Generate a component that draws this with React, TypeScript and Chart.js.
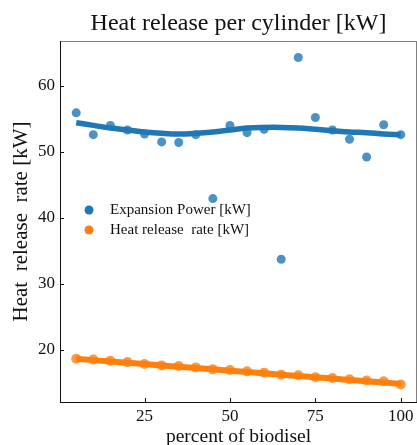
import React, { useEffect, useRef } from "react";
import { Chart, registerables } from "chart.js";

Chart.register(...registerables);

const xValues = [5, 10, 15, 20, 25, 30, 35, 40, 45, 50, 55, 60, 65, 70, 75, 80, 85, 90, 95, 100];
const expansionPower = [55.9, 52.6, 54.0, 53.3, 52.7, 51.5, 51.4, 52.6, 42.9, 54.0, 52.9, 53.4, 33.7, 64.3, 55.2, 53.3, 51.9, 49.2, 54.1, 52.6];
const expansionFit = [54.4, 54.0, 53.6, 53.3, 53.0, 52.8, 52.7, 52.8, 53.0, 53.3, 53.6, 53.7, 53.7, 53.6, 53.4, 53.2, 53.0, 52.9, 52.7, 52.6];
const heatRelease = [18.6, 18.5, 18.3, 18.1, 17.8, 17.6, 17.5, 17.3, 17.0, 16.9, 16.7, 16.5, 16.2, 16.1, 15.8, 15.7, 15.5, 15.3, 15.2, 14.7];
const heatFit = [18.6, 18.4, 18.2, 18.0, 17.8, 17.6, 17.4, 17.2, 17.0, 16.8, 16.6, 16.4, 16.2, 16.0, 15.8, 15.6, 15.4, 15.2, 15.0, 14.8];
const xTicks = [25, 50, 75, 100];
const yTicks = [20, 30, 40, 50, 60];
const seriesLabels = ["Expansion Power [kW]", "Heat release  rate [kW]"];
const titleText = "Heat release per cylinder [kW]";
const xTitle = "percent of biodisel";
const yTitle = "Heat  release  rate [kW]";

const FONT = "'Liberation Serif', 'DejaVu Serif', serif";
const BLUE = "#1f77b4";
const ORANGE = "#ff7f0e";

const framePlugin = {
  id: "frameAndTicks",
  afterDraw(chart: any) {
    const { ctx, chartArea } = chart;
    const { left, right, top, bottom } = chartArea;
    ctx.save();
    ctx.lineWidth = 1;
    ctx.strokeStyle = "#808080";
    ctx.beginPath();
    ctx.moveTo(left, Math.round(top) + 0.5);
    ctx.lineTo(right, Math.round(top) + 0.5);
    ctx.moveTo(right - 0.5, top);
    ctx.lineTo(right - 0.5, bottom);
    ctx.stroke();
    ctx.strokeStyle = "#111";
    ctx.beginPath();
    ctx.moveTo(Math.round(left) + 0.5, top);
    ctx.lineTo(Math.round(left) + 0.5, bottom);
    ctx.moveTo(left, Math.round(bottom) + 0.5);
    ctx.lineTo(right, Math.round(bottom) + 0.5);
    ctx.stroke();
    const xs = chart.scales.x;
    const ys = chart.scales.y;
    ctx.beginPath();
    xTicks.forEach((v) => {
      const px = Math.round(xs.getPixelForValue(v)) + 0.5;
      ctx.moveTo(px, bottom);
      ctx.lineTo(px, bottom - 4);
    });
    yTicks.forEach((v) => {
      const py = Math.round(ys.getPixelForValue(v)) + 0.5;
      ctx.moveTo(left, py);
      ctx.lineTo(left + 4, py);
    });
    ctx.stroke();
    const colors = [BLUE, ORANGE];
    ctx.font = "15px " + FONT;
    ctx.textBaseline = "middle";
    seriesLabels.forEach((lab, i) => {
      const cy = top + 169 + i * 20;
      const cx = left + 29;
      ctx.beginPath();
      ctx.fillStyle = colors[i];
      ctx.arc(cx, cy, 4.5, 0, Math.PI * 2);
      ctx.fill();
      ctx.fillStyle = "#111";
      ctx.fillText(lab, left + 50, cy);
    });
    ctx.restore();
  },
};

export default function App() {
  const ref = useRef<HTMLCanvasElement | null>(null);
  useEffect(() => {
    if (!ref.current) return;
    Chart.defaults.font.family = FONT;
    Chart.defaults.color = "#111";
    const chart = new Chart(ref.current, {
      type: "scatter",
      data: {
        datasets: [
          {
            type: "line",
            label: "fit1",
            data: xValues.map((x, i) => ({ x, y: expansionFit[i] })),
            borderColor: BLUE,
            borderWidth: 5.5,
            pointRadius: 0,
            tension: 0.4,
            order: 3,
          },
          {
            type: "line",
            label: "fit2",
            data: xValues.map((x, i) => ({ x, y: heatFit[i] })),
            borderColor: ORANGE,
            borderWidth: 6,
            pointRadius: 0,
            tension: 0,
            order: 3,
          },
          {
            label: seriesLabels[0],
            data: xValues.map((x, i) => ({ x, y: expansionPower[i] })),
            backgroundColor: "rgba(31,119,180,0.8)",
            borderWidth: 0,
            pointRadius: 4.5,
            order: 1,
          },
          {
            label: seriesLabels[1],
            data: xValues.map((x, i) => ({ x, y: heatRelease[i] })),
            backgroundColor: "rgba(255,127,14,0.8)",
            borderWidth: 0,
            pointRadius: 5,
            order: 1,
          },
        ],
      },
      options: {
        responsive: false,
        animation: false,
        layout: { padding: 0, autoPadding: false },
        plugins: {
          legend: { display: false },
          tooltip: { enabled: false },
          title: {
            display: true,
            text: titleText,
            fullSize: false,
            color: "#111",
            font: { family: FONT, size: 24, weight: "normal", lineHeight: 1.2 },
            padding: { top: 9.6, bottom: 2.6 },
          },
        },
        scales: {
          x: {
            type: "linear",
            min: 0.25,
            max: 104.75,
            afterBuildTicks: (s: any) => {
              s.ticks = xTicks.map((v) => ({ value: v }));
            },
            afterFit: (s: any) => {
              s.height = 43;
              s.paddingLeft = 0;
              s.paddingRight = 0;
            },
            grid: { display: false, drawTicks: false },
            border: { display: false },
            ticks: { font: { family: FONT, size: 17 }, color: "#111", padding: 4, maxRotation: 0 },
            title: {
              display: true,
              text: xTitle,
              font: { family: FONT, size: 19.5, lineHeight: 1.2 },
              color: "#111",
              padding: { top: 0, bottom: -4 },
            },
          },
          y: {
            type: "linear",
            min: 12.05,
            max: 66.8,
            afterBuildTicks: (s: any) => {
              s.ticks = yTicks.map((v) => ({ value: v }));
            },
            afterFit: (s: any) => {
              s.width = 60;
              s.paddingTop = 0;
              s.paddingBottom = 0;
            },
            grid: { display: false, drawTicks: false },
            border: { display: false },
            ticks: { font: { family: FONT, size: 17 }, color: "#111", padding: 5 },
            title: {
              display: true,
              text: yTitle,
              font: { family: FONT, size: 21, lineHeight: 1.2 },
              color: "#111",
              padding: { top: 9, bottom: 0 },
            },
          },
        },
      },
      plugins: [framePlugin],
    } as any);
    return () => chart.destroy();
  }, []);
  return (
    <div style={{ position: "fixed", left: 0, top: 0, width: 417, height: 445, background: "#fff" }}>
      <canvas ref={ref} width={417} height={445} style={{ display: "block" }} />
    </div>
  );
}
